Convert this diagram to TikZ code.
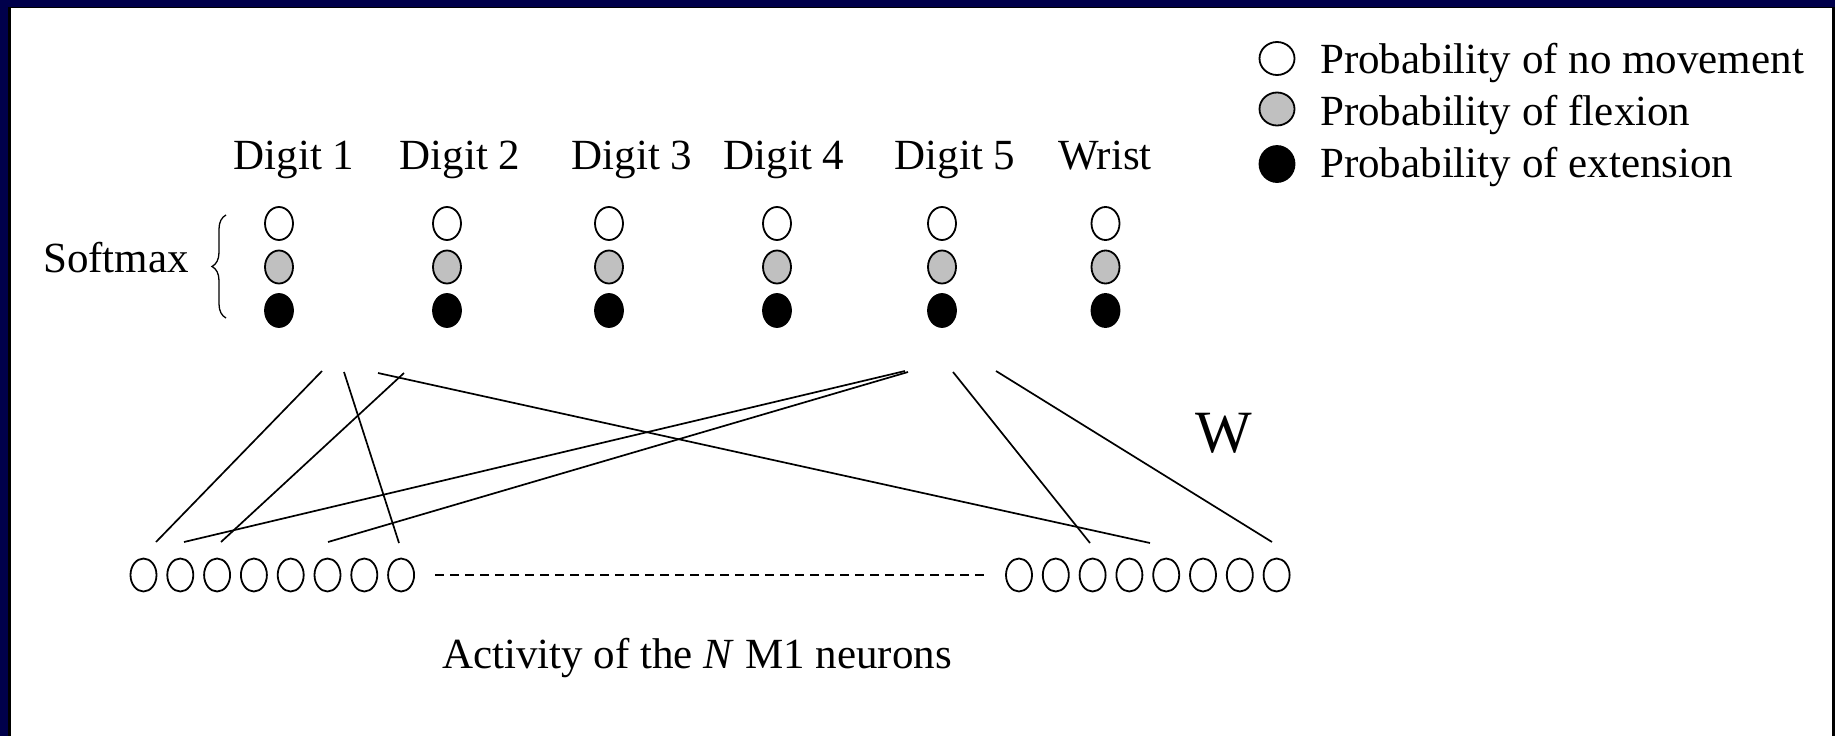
\documentclass[tikz,border=0pt]{standalone}
\usepackage{fontspec}
\setmainfont{Liberation Serif}
\usetikzlibrary{shapes.geometric,decorations.pathreplacing}
\definecolor{navy}{RGB}{0,0,75}
\definecolor{softgrey}{RGB}{192,192,192}
\begin{document}
\begin{tikzpicture}[x=1pt,y=-1pt,
  prob/.style={ellipse,draw=black,line width=1.8pt,minimum width=28pt,minimum height=33pt,inner sep=0pt},
  legprob/.style={ellipse,draw=black,line width=1.8pt,minimum width=35pt,minimum height=33pt,inner sep=0pt},
  neuron/.style={ellipse,draw=black,line width=1.8pt,minimum width=26pt,minimum height=33pt,inner sep=0pt},
  lbl/.style={font=\fontsize{43}{50}\selectfont,inner sep=0pt,anchor=base},
  wire/.style={line width=1.7pt,black}]
\useasboundingbox (0,0) rectangle (1835,736);
% frame
\fill[white] (0,0) rectangle (1835,736);
\fill[navy] (0,0) rectangle (1835,6.5);
\fill[navy] (0,0) rectangle (7.5,736);
\fill[black] (7.5,6.5) rectangle (10.5,736);
\fill[black] (7.5,6.5) rectangle (1835,8);
\fill[black] (1832,6.5) rectangle (1835,736);
% softmax units
\foreach \x [count=\i] in {279,447,609,777,942,1105.5}{
  \node[prob,fill=white] (n\i) at (\x,223.5) {};
  \node[prob,fill=softgrey] (f\i) at (\x,267) {};
  \node[prob,fill=black] (e\i) at (\x,310.5) {};
}
% digit labels
\node[lbl] (t1) at (294,169) {Digit 1};
\node[lbl] (t2) at (460,169) {Digit 2};
\node[lbl] (t3) at (632,169) {Digit 3};
\node[lbl] (t4) at (784,169) {Digit 4};
\node[lbl] (t5) at (955,169) {Digit 5};
\node[lbl] (t6) at (1105,169) {Wrist};
% softmax label and brace
\node[lbl,anchor=base west] (soft) at (43,272) {Softmax};
\coordinate (bb) at (226,318);
\coordinate (bt) at (226,215);
\draw[line width=1.3pt,decorate,decoration={brace,amplitude=14pt,aspect=0.5}] (bb) -- (bt);
% legend
\node[legprob,fill=white] (lg1) at (1277,58.5) {};
\node[legprob,fill=softgrey] (lg2) at (1277,109) {};
\node[legprob,fill=black,minimum height=36pt] (lg3) at (1277,164) {};
\node[lbl,anchor=base west] (lt1) at (1320,73) {Probability of no movement};
\node[lbl,anchor=base west] (lt2) at (1320,125) {Probability of flexion};
\node[lbl,anchor=base west] (lt3) at (1320,177) {Probability of extension};
% neurons
\foreach \i in {0,...,7}{
  \node[neuron] (l\i) at ({143.5+36.8*\i},575) {};
  \node[neuron] (r\i) at ({1019+36.8*\i},575) {};
}
\draw[line width=1.5pt,dash pattern=on 9pt off 6pt] (l7.east) ++(20,0) coordinate (ds) -- ([xshift=-18pt]r0.west) coordinate (de);
% weights
\coordinate (a1) at (322,371); \coordinate (a2) at (156,542);
\coordinate (b1) at (344,372); \coordinate (b2) at (399,543);
\coordinate (c1) at (378,373); \coordinate (c2) at (1150,543);
\coordinate (d1) at (404,373); \coordinate (d2) at (221,542);
\coordinate (g1) at (905,371); \coordinate (g2) at (184,542);
\coordinate (h1) at (908,372); \coordinate (h2) at (328,542);
\coordinate (k1) at (953,372); \coordinate (k2) at (1090,543);
\coordinate (m1) at (996,371); \coordinate (m2) at (1272,542);
\draw[wire] (a1) -- (a2);
\draw[wire] (b1) -- (b2);
\draw[wire] (c1) -- (c2);
\draw[wire] (d1) -- (d2);
\draw[wire] (g1) -- (g2);
\draw[wire] (h1) -- (h2);
\draw[wire] (k1) -- (k2);
\draw[wire] (m1) -- (m2);
\node[font=\fontsize{60}{66}\selectfont,inner sep=0pt,anchor=base west] (w) at (1195,452) {W};
\node[lbl,anchor=base west] (act) at (442,668) {Activity of the \textit{N} M1 neurons};
\end{tikzpicture}
\end{document}
